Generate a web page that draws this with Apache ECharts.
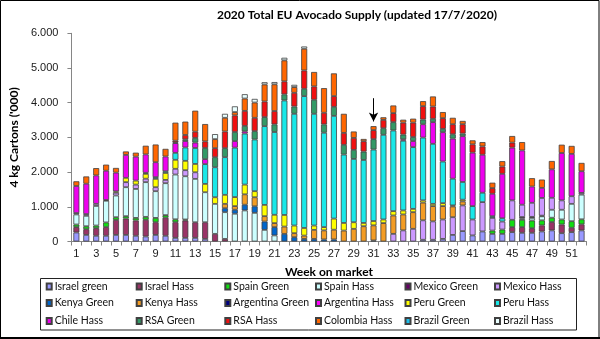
<!DOCTYPE html>
<html>
<head>
<meta charset="utf-8">
<script src="https://cdn.jsdelivr.net/npm/echarts@6/dist/echarts.min.js"></script>
<style>html,body{margin:0;padding:0;background:#fff}#c{width:600px;height:339px}</style>
</head>
<body>
<div id="c"></div>
<script>
var weeks = [];
for (var w = 1; w <= 52; w++) weeks.push(String(w));
var yTicks = ['0','1.000','2.000','3.000','4.000','5.000','6.000'];
var title = '2020 Total EU Avocado Supply (updated 17/7/2020)';

// values in '000 4 kg cartons, weeks 1..52
var israelGreen = [260,190,165,165,190,190,165,145,190,165,105,105,105,75,0,0,0,0,0,0,0,0,0,0,0,0,0,0,0,0,0,0,0,0,0,50,50,75,190,300,175,290,220,220,270,250,250,290,320,240,270,320];
var israelHass  = [155,165,220,250,430,470,440,480,365,520,450,500,450,480,220,75,0,0,0,0,0,0,0,0,0,0,0,0,0,0,0,0,0,0,0,0,0,0,0,0,0,0,0,0,145,165,135,175,240,250,125,175];
var spainGreen  = [75,85,75,135,80,70,75,85,125,75,85,30,0,0,0,0,0,0,0,0,0,0,0,0,0,0,0,0,0,0,0,0,0,0,0,0,0,0,0,0,0,0,95,125,210,210,220,145,125,145,190,145];
var spainHass   = [290,300,565,625,625,835,835,1000,770,920,1290,1245,1250,865,865,770,800,895,825,335,175,0,0,0,0,0,0,0,0,0,0,0,0,0,0,0,0,0,0,0,0,0,0,0,0,40,75,115,230,280,500,710];
var mexicoGreen = [0,0,0,0,0,0,0,0,0,0,0,0,0,0,0,0,0,0,0,0,0,0,0,0,0,0,0,0,0,0,0,0,0,0,0,0,0,0,0,0,0,0,0,0,0,40,30,20,0,0,0,0];
var mexicoHass  = [40,50,60,20,80,145,125,100,115,95,165,175,190,0,0,0,0,0,0,0,0,0,0,0,0,0,0,0,0,0,0,0,220,320,365,560,530,560,510,740,460,845,365,230,560,355,405,510,345,270,220,50];
var kenyaGreen  = [0,0,0,0,0,0,0,0,0,0,0,0,0,0,0,115,115,165,190,240,240,220,125,75,75,60,60,0,0,0,30,0,0,0,0,0,0,0,0,0,0,0,0,0,0,0,0,0,0,0,0,0];
var kenyaHass   = [0,0,0,0,0,0,0,0,0,0,0,0,0,0,0,125,105,300,260,155,115,210,115,95,260,260,280,315,365,440,435,530,530,460,480,510,440,385,310,115,0,0,0,0,0,0,0,0,0,0,0,0];
var argentinaGreen = [0,0,0,0,0,0,0,0,0,0,0,0,0,0,0,0,0,0,0,0,0,0,0,0,0,0,0,0,0,0,0,0,0,0,0,0,0,0,0,0,0,0,0,0,0,0,0,0,0,0,0,0];
var argentinaHass  = [0,0,0,0,0,0,0,0,0,0,0,0,0,0,0,0,0,0,0,0,0,0,0,0,0,0,0,0,0,0,0,0,0,0,0,0,0,0,0,0,0,0,0,0,0,0,0,0,0,0,0,0];
var peruGreen   = [0,0,0,0,40,125,115,140,240,200,260,270,240,240,190,260,260,280,175,325,240,335,220,220,125,95,320,220,190,95,125,105,125,115,95,65,65,85,30,50,0,0,0,0,0,0,0,0,0,0,0,0];
var peruHass    = [0,0,0,0,0,0,0,30,50,50,200,385,460,570,865,1085,1425,1470,1490,2270,2385,3300,3220,3800,3220,2720,2960,1970,1825,1815,2060,2440,2325,2010,1780,1810,1730,1200,770,510,385,270,50,95,0,0,0,0,0,0,0,0];
var chileHass   = [780,875,820,845,540,660,690,530,430,425,280,185,155,145,0,0,190,65,0,0,0,0,0,0,0,0,0,0,0,0,0,0,0,40,175,385,625,845,1155,1320,1540,1095,645,1280,1520,1565,470,290,820,1365,1220,625];
var rsaGreen    = [0,0,0,0,0,0,0,0,0,0,20,50,135,320,290,260,260,155,240,260,220,175,210,210,405,240,260,280,260,240,300,190,240,135,115,135,95,95,125,75,0,0,0,0,0,0,0,0,0,0,0,0];
var rsaHass     = [0,0,0,0,0,0,0,0,0,0,50,125,180,190,260,480,480,435,385,450,385,375,395,530,385,335,310,345,345,300,260,240,260,345,415,385,355,310,290,270,240,240,165,210,145,0,0,0,0,0,0,0];
var colombiaHass = [135,210,210,175,135,100,115,250,510,220,520,385,605,500,260,395,95,355,440,490,770,605,165,625,415,710,655,550,185,65,115,75,220,85,115,145,290,175,185,95,115,125,155,155,190,240,240,240,240,240,230,240];
var brazilGreen = [0,0,0,0,0,0,0,0,0,0,0,0,0,0,0,0,0,0,0,0,0,0,0,0,0,0,0,0,0,0,0,0,0,0,0,0,0,0,0,0,0,0,0,0,0,0,0,0,0,0,0,0];
var brazilHass  = [0,0,0,0,0,0,0,0,0,0,0,0,0,0,145,115,165,125,105,65,65,75,65,65,0,0,0,0,0,0,0,0,0,0,0,0,0,0,0,0,0,0,0,0,0,0,0,0,0,0,0,0];

var seriesNames = ['Israel green','Israel Hass','Spain Green','Spain Hass','Mexico Green','Mexico Hass',
  'Kenya Green','Kenya Hass','Argentina Green','Argentina Hass','Peru Green','Peru Hass',
  'Chile Hass','RSA Green','RSA Hass','Colombia Hass','Brazil Green','Brazil Hass'];
var seriesValues = [israelGreen,israelHass,spainGreen,spainHass,mexicoGreen,mexicoHass,
  kenyaGreen,kenyaHass,argentinaGreen,argentinaHass,peruGreen,peruHass,
  chileHass,rsaGreen,rsaHass,colombiaHass,brazilGreen,brazilHass];
var colors = ['#9999FF','#993366','#11DD11','#CCFFFF','#660066','#CC99FF',
  '#0066CC','#F39C24','#000080','#FF00FF','#FFFF00','#19E8E8',
  '#EE00EE','#339966','#F01010','#FF6600','#1EBEEB','#EAFFFF'];

var series = seriesNames.map(function (n, i) {
  var s = {
    name: n, type: 'bar', stack: 'total', barWidth: 6,
    data: seriesValues[i].map(function (v) { return v ? v : '-'; }),
    itemStyle: { color: colors[i], borderColor: '#404040', borderWidth: 0.8 }
  };
  if (i === 0) {
    s.markLine = {
      silent: true, symbol: ['none', 'arrow'], symbolSize: [7, 9],
      lineStyle: { color: '#000', width: 1, type: 'solid' },
      label: { show: false },
      data: [[{ coord: ['31', 4130] }, { coord: ['31', 3460] }]]
    };
  }
  return s;
});

var colX = [45.7, 135.7, 224.3, 315, 404.5, 494];
var rowY = [281, 297.5, 315.5];
var legends = seriesNames.map(function (n, i) {
  return {
    data: [n], left: colX[i % 6], top: rowY[Math.floor(i / 6)],
    orient: 'horizontal', padding: 0, itemGap: 0,
    itemWidth: 5, itemHeight: 6, icon: 'rect', selectedMode: false,
    textStyle: { fontFamily: 'Lato', fontSize: 10.5, color: '#111', padding: [0, 0, 0, -2] }
  };
});

var chart = echarts.init(document.getElementById('c'), null, { renderer: 'canvas' });
chart.setOption({
  animation: false,
  backgroundColor: '#fff',
  title: {
    text: title, left: 352, top: 4, textAlign: 'center',
    textStyle: { fontFamily: 'Lato', fontWeight: 'bold', fontSize: 12, color: '#000' }
  },
  legend: legends,
  grid: { left: 56.6, right: 13.5, top: 33.3, bottom: 97.5 },
  xAxis: {
    type: 'category', data: weeks,
    name: 'Week on market', nameLocation: 'middle', nameGap: 25,
    nameTextStyle: { fontFamily: 'Lato', fontWeight: 'bold', fontSize: 12, color: '#000' },
    axisLine: { lineStyle: { color: '#868686', width: 1 } },
    axisTick: { show: true, interval: 0, alignWithLabel: false, length: 4, lineStyle: { color: '#868686' } },
    axisLabel: { interval: 1, margin: 7, fontFamily: 'Liberation Sans', fontSize: 11, color: '#1a1a1a' }
  },
  yAxis: {
    type: 'value', min: 0, max: 6000, interval: 1000,
    name: "4 kg Cartons ('000)", nameLocation: 'middle', nameGap: 45, nameRotate: 90,
    nameTextStyle: { fontFamily: 'Lato', fontWeight: 'bold', fontSize: 12, color: '#000' },
    axisLine: { show: true, lineStyle: { color: '#868686', width: 1 } },
    axisTick: { show: true, length: 4, lineStyle: { color: '#868686' } },
    splitLine: { show: false },
    axisLabel: {
      margin: 13, fontFamily: 'Liberation Sans', fontSize: 11, color: '#1a1a1a',
      formatter: function (v) { return yTicks[Math.round(v / 1000)]; }
    }
  },
  graphic: [
    { type: 'rect', shape: { x: 40.5, y: 278.5, width: 536, height: 51.5 },
      style: { fill: 'none', stroke: '#222', lineWidth: 1 }, z: -1 },
    { type: 'rect', shape: { x: 0.5, y: 0.5, width: 598.5, height: 337 },
      style: { fill: 'none', stroke: '#000', lineWidth: 1 }, z: -1 },
    { type: 'line', shape: { x1: 0, y1: 338, x2: 600, y2: 338 },
      style: { stroke: '#000', lineWidth: 2 }, z: -1 }
  ],
  series: series
});
</script>
</body>
</html>
